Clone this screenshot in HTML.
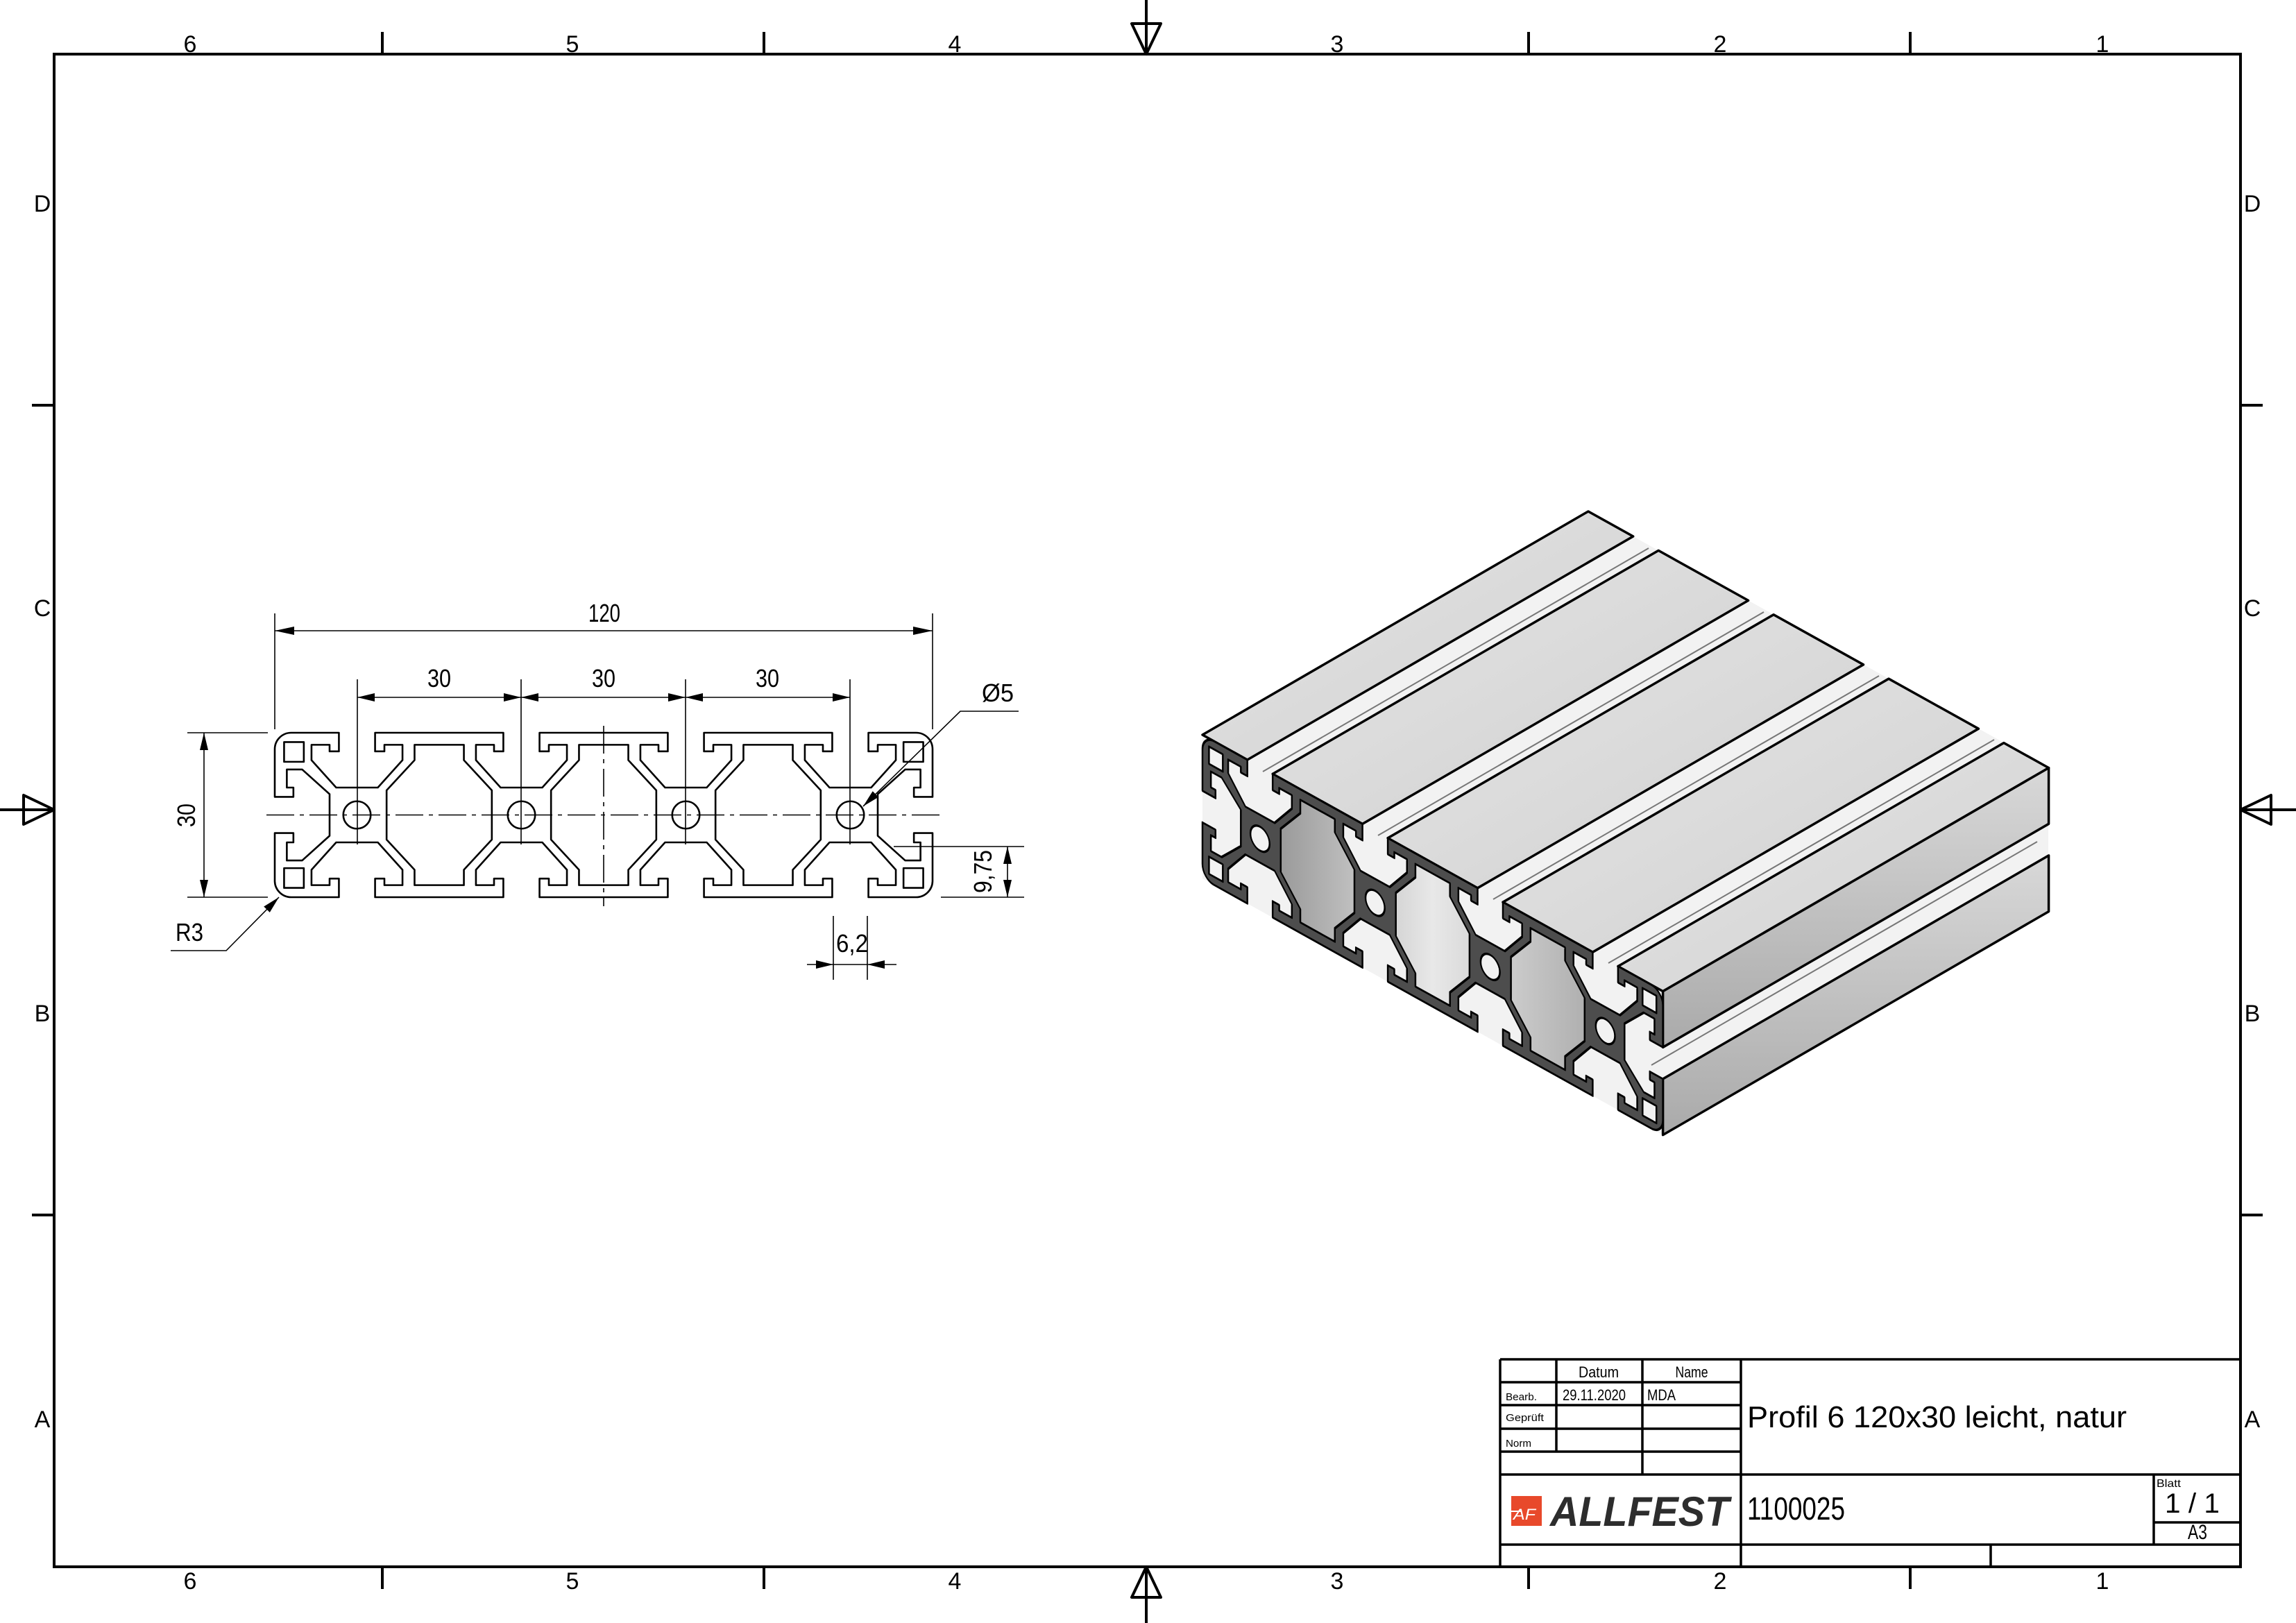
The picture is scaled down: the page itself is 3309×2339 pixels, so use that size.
<!DOCTYPE html>
<html><head><meta charset="utf-8"><style>
html,body{margin:0;padding:0;background:#fff}
svg{display:block}
text{font-family:"Liberation Sans",sans-serif;fill:#000}
</style></head><body>
<svg width="3309" height="2339" viewBox="0 0 3309 2339" xmlns="http://www.w3.org/2000/svg">
<defs>
<path id="xs" fill-rule="evenodd" d="M3,0 L11.7,0 L11.7,3.4 L10,3.4 L10,2.2 L6.7,2.2 L6.7,5 L11.2,10 L18.8,10 L23.3,5 L23.3,2.2 L20,2.2 L20,3.4 L18.3,3.4 L18.3,0
L41.7,0 L41.7,3.4 L40,3.4 L40,2.2 L36.7,2.2 L36.7,5 L41.2,10 L48.8,10 L53.3,5 L53.3,2.2 L50,2.2 L50,3.4 L48.3,3.4 L48.3,0
L71.7,0 L71.7,3.4 L70,3.4 L70,2.2 L66.7,2.2 L66.7,5 L71.2,10 L78.8,10 L83.3,5 L83.3,2.2 L80,2.2 L80,3.4 L78.3,3.4 L78.3,0
L101.7,0 L101.7,3.4 L100,3.4 L100,2.2 L96.7,2.2 L96.7,5 L101.2,10 L108.8,10 L113.3,5 L113.3,2.2 L110,2.2 L110,3.4 L108.3,3.4 L108.3,0
L117,0 A3,3 0 0 1 120,3
L120,11.7 L116.6,11.7 L116.6,10 L117.8,10 L117.8,6.7 L115,6.7 L110,11.2 L110,18.8 L115,23.3 L117.8,23.3 L117.8,20 L116.6,20 L116.6,18.3 L120,18.3
L120,27 A3,3 0 0 1 117,30
L108.3,30 L108.3,26.6 L110,26.6 L110,27.8 L113.3,27.8 L113.3,25 L108.8,20 L101.2,20 L96.7,25 L96.7,27.8 L100,27.8 L100,26.6 L101.7,26.6 L101.7,30
L78.3,30 L78.3,26.6 L80,26.6 L80,27.8 L83.3,27.8 L83.3,25 L78.8,20 L71.2,20 L66.7,25 L66.7,27.8 L70,27.8 L70,26.6 L71.7,26.6 L71.7,30
L48.3,30 L48.3,26.6 L50,26.6 L50,27.8 L53.3,27.8 L53.3,25 L48.8,20 L41.2,20 L36.7,25 L36.7,27.8 L40,27.8 L40,26.6 L41.7,26.6 L41.7,30
L18.3,30 L18.3,26.6 L20,26.6 L20,27.8 L23.3,27.8 L23.3,25 L18.8,20 L11.2,20 L6.7,25 L6.7,27.8 L10,27.8 L10,26.6 L11.7,26.6 L11.7,30
L3,30 A3,3 0 0 1 0,27
L0,18.3 L3.4,18.3 L3.4,20 L2.2,20 L2.2,23.3 L5,23.3 L10,18.8 L10,11.2 L5,6.7 L2.2,6.7 L2.2,10 L3.4,10 L3.4,11.7 L0,11.7
L0,3 A3,3 0 0 1 3,0 Z
M25.5,2.2 L34.5,2.2 L34.5,5 L39.6,10.5 L39.6,19.5 L34.5,25 L34.5,27.8 L25.5,27.8 L25.5,25 L20.4,19.5 L20.4,10.5 L25.5,5 Z
M55.5,2.2 L64.5,2.2 L64.5,5 L69.6,10.5 L69.6,19.5 L64.5,25 L64.5,27.8 L55.5,27.8 L55.5,25 L50.4,19.5 L50.4,10.5 L55.5,5 Z
M85.5,2.2 L94.5,2.2 L94.5,5 L99.6,10.5 L99.6,19.5 L94.5,25 L94.5,27.8 L85.5,27.8 L85.5,25 L80.4,19.5 L80.4,10.5 L85.5,5 Z
M1.7,1.7 h3.6 v3.6 h-3.6 Z M114.7,1.7 h3.6 v3.6 h-3.6 Z M1.7,24.7 h3.6 v3.6 h-3.6 Z M114.7,24.7 h3.6 v3.6 h-3.6 Z
M17.5,15 A2.5,2.5 0 1 0 12.5,15 A2.5,2.5 0 1 0 17.5,15 Z
M47.5,15 A2.5,2.5 0 1 0 42.5,15 A2.5,2.5 0 1 0 47.5,15 Z
M77.5,15 A2.5,2.5 0 1 0 72.5,15 A2.5,2.5 0 1 0 77.5,15 Z
M107.5,15 A2.5,2.5 0 1 0 102.5,15 A2.5,2.5 0 1 0 107.5,15 Z"/>
<path id="cav" d="M25.5,2.2 L34.5,2.2 L34.5,5 L39.6,10.5 L39.6,19.5 L34.5,25 L34.5,27.8 L25.5,27.8 L25.5,25 L20.4,19.5 L20.4,10.5 L25.5,5 Z
M55.5,2.2 L64.5,2.2 L64.5,5 L69.6,10.5 L69.6,19.5 L64.5,25 L64.5,27.8 L55.5,27.8 L55.5,25 L50.4,19.5 L50.4,10.5 L55.5,5 Z
M85.5,2.2 L94.5,2.2 L94.5,5 L99.6,10.5 L99.6,19.5 L94.5,25 L94.5,27.8 L85.5,27.8 L85.5,25 L80.4,19.5 L80.4,10.5 L85.5,5 Z"/>
<linearGradient id="gt" x1="0" y1="0" x2="1" y2="1"><stop offset="0" stop-color="#e6e6e6"/><stop offset="1" stop-color="#cfcfcf"/></linearGradient>
<linearGradient id="gr" x1="0" y1="0" x2="0" y2="1"><stop offset="0" stop-color="#d8d8d8"/><stop offset="1" stop-color="#aaaaaa"/></linearGradient>
<linearGradient id="gc" x1="0" y1="0" x2="1" y2="0"><stop offset="0" stop-color="#9a9a9a"/><stop offset="0.5" stop-color="#e8e8e8"/><stop offset="1" stop-color="#b0b0b0"/></linearGradient>
</defs>

<!-- frame -->
<rect x="78" y="78" width="3151" height="2180" fill="none" stroke="#000" stroke-width="4"/>
<g stroke="#000" stroke-width="4">
<line x1="551" y1="46" x2="551" y2="78"/><line x1="1101" y1="46" x2="1101" y2="78"/><line x1="2203" y1="46" x2="2203" y2="78"/><line x1="2753" y1="46" x2="2753" y2="78"/>
<line x1="551" y1="2258" x2="551" y2="2290"/><line x1="1101" y1="2258" x2="1101" y2="2290"/><line x1="2203" y1="2258" x2="2203" y2="2290"/><line x1="2753" y1="2258" x2="2753" y2="2290"/>
<line x1="46" y1="584" x2="78" y2="584"/><line x1="46" y1="1751" x2="78" y2="1751"/>
<line x1="3229" y1="584" x2="3261" y2="584"/><line x1="3229" y1="1751" x2="3261" y2="1751"/>
<line x1="1652" y1="0" x2="1652" y2="78"/><line x1="1652" y1="2258" x2="1652" y2="2339"/>
<line x1="0" y1="1167" x2="78" y2="1167"/><line x1="3229" y1="1167" x2="3309" y2="1167"/>
</g>
<g fill="none" stroke="#000" stroke-width="4" stroke-linejoin="round">
<polygon points="1631,34 1673,34 1652,78"/>
<polygon points="1631,2302 1673,2302 1652,2258"/>
<polygon points="34,1146 34,1188 78,1167"/>
<polygon points="3273,1146 3273,1188 3229,1167"/>
</g>
<g font-size="34" text-anchor="middle">
<text x="274" y="75">6</text><text x="825" y="75">5</text><text x="1376" y="75">4</text><text x="1927" y="75">3</text><text x="2479" y="75">2</text><text x="3030" y="75">1</text>
<text x="274" y="2290">6</text><text x="825" y="2290">5</text><text x="1376" y="2290">4</text><text x="1927" y="2290">3</text><text x="2479" y="2290">2</text><text x="3030" y="2290">1</text>
<text x="61" y="305">D</text><text x="61" y="888">C</text><text x="61" y="1472">B</text><text x="61" y="2057">A</text>
<text x="3246" y="305">D</text><text x="3246" y="888">C</text><text x="3246" y="1472">B</text><text x="3246" y="2057">A</text>
</g>

<!-- 2D section -->
<use href="#xs" transform="matrix(7.9,0,0,7.9,396,1056)" fill="none" stroke="#000" stroke-width="0.33" stroke-linejoin="round"/>
<g stroke="#000" stroke-width="1.6" fill="none">
<line x1="384" y1="1174.5" x2="1356" y2="1174.5" stroke-dasharray="40,8,6,8"/>
<line x1="870" y1="1046" x2="870" y2="1306" stroke-dasharray="40,8,6,8"/>
<line x1="515" y1="979" x2="515" y2="1217"/><line x1="751" y1="979" x2="751" y2="1217"/><line x1="988" y1="979" x2="988" y2="1217"/><line x1="1225" y1="979" x2="1225" y2="1217"/>
<line x1="396" y1="884" x2="396" y2="1051"/><line x1="1344" y1="884" x2="1344" y2="1051"/>
<line x1="396" y1="909" x2="1344" y2="909"/>
<line x1="515" y1="1005" x2="1225" y2="1005"/>
<line x1="270" y1="1056" x2="386" y2="1056"/><line x1="270" y1="1293" x2="386" y2="1293"/>
<line x1="294" y1="1056" x2="294" y2="1293"/>
<polyline points="402,1293 326,1370 246,1370"/>
<polyline points="1244,1162 1384,1025 1468,1025"/>
<line x1="1288" y1="1220" x2="1476" y2="1220"/><line x1="1356" y1="1293" x2="1476" y2="1293"/>
<line x1="1452" y1="1220" x2="1452" y2="1293"/>
<line x1="1201" y1="1320" x2="1201" y2="1412"/><line x1="1250" y1="1320" x2="1250" y2="1412"/>
<line x1="1163" y1="1390" x2="1292" y2="1390"/>
</g>
<g fill="#000">
<polygon points="396,909 424,903 424,915"/><polygon points="1344,909 1316,903 1316,915"/>
<polygon points="515,1005 540,999 540,1011"/><polygon points="751,1005 726,999 726,1011"/><polygon points="751,1005 776,999 776,1011"/>
<polygon points="988,1005 963,999 963,1011"/><polygon points="988,1005 1013,999 1013,1011"/><polygon points="1225,1005 1200,999 1200,1011"/>
<polygon points="294,1056 288,1081 300,1081"/><polygon points="294,1293 288,1268 300,1268"/>
<polygon points="1452,1220 1446,1245 1458,1245"/><polygon points="1452,1293 1446,1268 1458,1268"/>
<polygon points="1201,1390 1176,1384 1176,1396"/><polygon points="1250,1390 1275,1384 1275,1396"/>
<polygon points="402,1293 388.8,1314.9 380.2,1306.5"/>
<polygon points="1244,1162 1266.1,1148.8 1257.7,1140.2"/>
</g>
<g font-size="36" text-anchor="middle">
<text x="871" y="896" textLength="46" lengthAdjust="spacingAndGlyphs">120</text>
<text x="633" y="990" textLength="34" lengthAdjust="spacingAndGlyphs">30</text>
<text x="870" y="990" textLength="34" lengthAdjust="spacingAndGlyphs">30</text>
<text x="1106" y="990" textLength="34" lengthAdjust="spacingAndGlyphs">30</text>
<text transform="translate(281,1175) rotate(-90)" x="0" y="0" textLength="34" lengthAdjust="spacingAndGlyphs">30</text>
<text transform="translate(1429,1256) rotate(-90)" x="0" y="0" textLength="62" lengthAdjust="spacingAndGlyphs">9,75</text>
<text x="1228" y="1372" textLength="46" lengthAdjust="spacingAndGlyphs">6,2</text>
<text x="1438" y="1011" textLength="46" lengthAdjust="spacingAndGlyphs">Ø5</text>
<text x="273" y="1356" textLength="40" lengthAdjust="spacingAndGlyphs">R3</text>
</g>

<!-- 3D view -->
<polygon points="1733,1059 2289,737 2952,1106 2952,1314 2397,1636 1733,1266" fill="#f2f2f2" stroke="none"/>
<g stroke="#777" stroke-width="2">
<line x1="1820" y1="1112" x2="2376" y2="790"/>
<line x1="1986" y1="1204" x2="2542" y2="882"/>
<line x1="2152" y1="1296" x2="2708" y2="974"/>
<line x1="2318" y1="1388" x2="2874" y2="1066"/>
<line x1="2380" y1="1535" x2="2936" y2="1213"/>
</g>
<g stroke="#000" stroke-width="3.5" stroke-linejoin="round" fill="url(#gt)">
<polygon points="1733,1059 1797.7,1095 2353.7,773 2289,737"/>
<polygon points="1834.2,1115.4 1963.6,1187.4 2519.6,865.4 2390.2,793.4"/>
<polygon points="2000.1,1207.8 2129.5,1279.8 2685.5,957.8 2556.1,885.8"/>
<polygon points="2166,1300.2 2295.4,1372.2 2851.4,1050.2 2722,978.2"/>
<polygon points="2331.9,1392.6 2396.6,1428.6 2952.6,1106.6 2887.9,1070.6"/>
</g>
<g stroke="#000" stroke-width="3.5" stroke-linejoin="round" fill="url(#gr)">
<polygon points="2396.6,1428.6 2396.6,1509.3 2952.6,1187.3 2952.6,1106.6"/>
<polygon points="2396.6,1554.9 2396.6,1635.6 2952.6,1313.6 2952.6,1232.9"/>
</g>
<use href="#cav" transform="matrix(5.53,3.08,0,6.9,1733,1059)" fill="url(#gc)" stroke="none"/>
<use href="#xs" transform="matrix(5.53,3.08,0,6.9,1733,1059)" fill="#4d4d4d" stroke="#000" stroke-width="0.45" stroke-linejoin="round"/>

<!-- title block -->
<g stroke="#000" stroke-width="3.5" fill="none">
<line x1="2162" y1="1959" x2="3229" y2="1959"/>
<line x1="2162" y1="1959" x2="2162" y2="2258"/>
<line x1="2509" y1="1959" x2="2509" y2="2258"/>
<line x1="2243" y1="1959" x2="2243" y2="2092"/>
<line x1="2367" y1="1959" x2="2367" y2="2125"/>
<line x1="2162" y1="1992" x2="2509" y2="1992"/>
<line x1="2162" y1="2025" x2="2509" y2="2025"/>
<line x1="2162" y1="2059" x2="2509" y2="2059"/>
<line x1="2162" y1="2092" x2="2509" y2="2092"/>
<line x1="2162" y1="2125" x2="3229" y2="2125"/>
<line x1="2162" y1="2226" x2="3229" y2="2226"/>
<line x1="3104" y1="2125" x2="3104" y2="2226"/>
<line x1="3104" y1="2194" x2="3229" y2="2194"/>
<line x1="2869" y1="2226" x2="2869" y2="2258"/>
</g>
<g>
<text x="2304" y="1985" font-size="22" text-anchor="middle" textLength="58" lengthAdjust="spacingAndGlyphs">Datum</text>
<text x="2438" y="1985" font-size="22" text-anchor="middle" textLength="47" lengthAdjust="spacingAndGlyphs">Name</text>
<text x="2170" y="2018" font-size="15" textLength="45" lengthAdjust="spacingAndGlyphs">Bearb.</text>
<text x="2252" y="2018" font-size="22" textLength="91" lengthAdjust="spacingAndGlyphs">29.11.2020</text>
<text x="2374" y="2018" font-size="22" textLength="41" lengthAdjust="spacingAndGlyphs">MDA</text>
<text x="2170" y="2048" font-size="15" textLength="55" lengthAdjust="spacingAndGlyphs">Geprüft</text>
<text x="2170" y="2085" font-size="15" textLength="37" lengthAdjust="spacingAndGlyphs">Norm</text>
<text x="2518" y="2057" font-size="44" textLength="547" lengthAdjust="spacingAndGlyphs">Profil 6 120x30 leicht, natur</text>
<text x="2518" y="2190" font-size="46" textLength="141" lengthAdjust="spacingAndGlyphs">1100025</text>
<text x="3108" y="2143" font-size="16" textLength="35" lengthAdjust="spacingAndGlyphs">Blatt</text>
<text x="3120" y="2180" font-size="40" textLength="79" lengthAdjust="spacingAndGlyphs">1 / 1</text>
<text x="3167" y="2218" font-size="30" text-anchor="middle" textLength="28" lengthAdjust="spacingAndGlyphs">A3</text>
<rect x="2178" y="2156" width="44" height="43" fill="#e8492b"/>
<text x="2181" y="2190" font-size="22" font-style="italic" style="fill:#fff" textLength="32" lengthAdjust="spacingAndGlyphs">AF</text>
<line x1="2178" y1="2178" x2="2192" y2="2178" stroke="#fff" stroke-width="2"/>
<text x="2234" y="2199" font-size="60" font-weight="bold" font-style="italic" style="fill:#2d2d2d" textLength="258" lengthAdjust="spacingAndGlyphs">ALLFEST</text>
</g>
</svg>
</body></html>
